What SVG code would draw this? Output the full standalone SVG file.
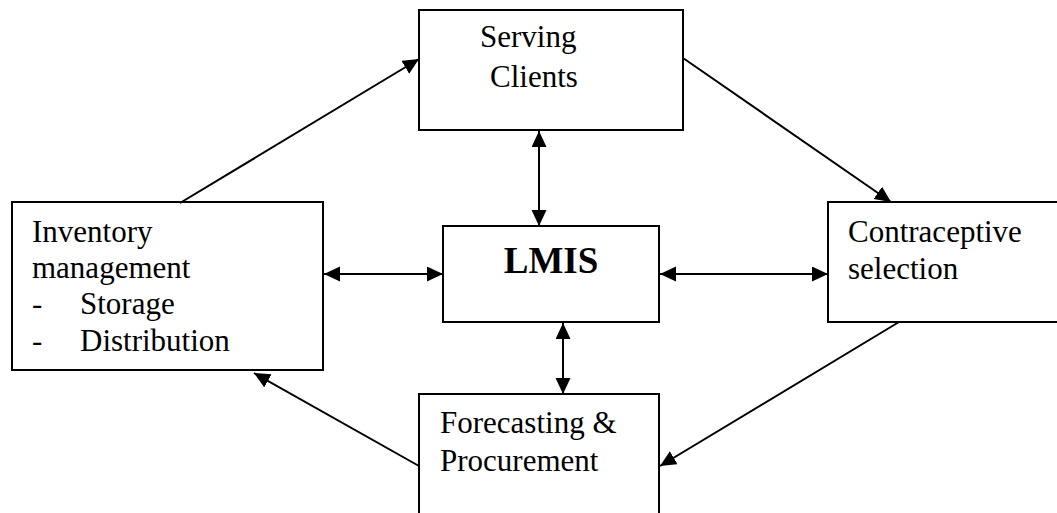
<svg xmlns="http://www.w3.org/2000/svg" width="1057" height="513" viewBox="0 0 1057 513">
  <style>
    .box { fill: #ffffff; stroke: #000000; stroke-width: 2; }
    .lbl { font-family: "Liberation Serif", "Times New Roman", serif; font-size: 31px; fill: #000000; }
    .big { font-family: "Liberation Serif", "Times New Roman", serif; font-size: 37px; font-weight: bold; fill: #000000; }
    .link { stroke: #000000; stroke-width: 2; fill: none; }
  </style>
  <defs>
    <marker id="head" markerUnits="userSpaceOnUse" markerWidth="18" markerHeight="16" refX="16" refY="7.5" orient="auto-start-reverse">
      <path d="M0,0 L16,7.5 L0,15 z" fill="#000000"/>
    </marker>
  </defs>
  <rect width="1057" height="513" fill="#ffffff"/>

  <g id="serving-clients">
    <rect class="box" x="419" y="10" width="264" height="120"/>
    <text class="lbl" x="480" y="47">Serving</text>
    <text class="lbl" x="490" y="87">Clients</text>
  </g>

  <g id="inventory-management">
    <rect class="box" x="12" y="202" width="311" height="168"/>
    <text class="lbl" x="32" y="242">Inventory</text>
    <text class="lbl" x="32" y="278">management</text>
    <text class="lbl" x="32" y="314">-</text>
    <text class="lbl" x="80" y="314">Storage</text>
    <text class="lbl" x="32" y="351">-</text>
    <text class="lbl" x="80" y="351">Distribution</text>
  </g>

  <g id="lmis">
    <rect class="box" x="443" y="226" width="216" height="96"/>
    <text class="big" x="551" y="273" text-anchor="middle">LMIS</text>
  </g>

  <g id="contraceptive-selection">
    <rect class="box" x="828" y="202" width="240" height="120"/>
    <text class="lbl" x="848" y="242">Contraceptive</text>
    <text class="lbl" x="848" y="279">selection</text>
  </g>

  <g id="forecasting-procurement">
    <rect class="box" x="419" y="394" width="240" height="130"/>
    <text class="lbl" x="440" y="433">Forecasting &amp;</text>
    <text class="lbl" x="440" y="471">Procurement</text>
  </g>

  <g id="connectors">
    <!-- outer cycle -->
    <line class="link" x1="180" y1="203" x2="419" y2="59" marker-end="url(#head)"/>
    <line class="link" x1="683" y1="58" x2="891" y2="202" marker-end="url(#head)"/>
    <line class="link" x1="899" y1="322" x2="660" y2="466" marker-end="url(#head)"/>
    <line class="link" x1="419" y1="466" x2="254" y2="373" marker-end="url(#head)"/>
    <!-- links to the hub -->
    <line class="link" x1="539" y1="131" x2="539" y2="226" marker-start="url(#head)" marker-end="url(#head)"/>
    <line class="link" x1="563" y1="323" x2="563" y2="394" marker-start="url(#head)" marker-end="url(#head)"/>
    <line class="link" x1="324" y1="274" x2="443" y2="274" marker-start="url(#head)" marker-end="url(#head)"/>
    <line class="link" x1="660" y1="274" x2="828" y2="274" marker-start="url(#head)" marker-end="url(#head)"/>
  </g>
</svg>
